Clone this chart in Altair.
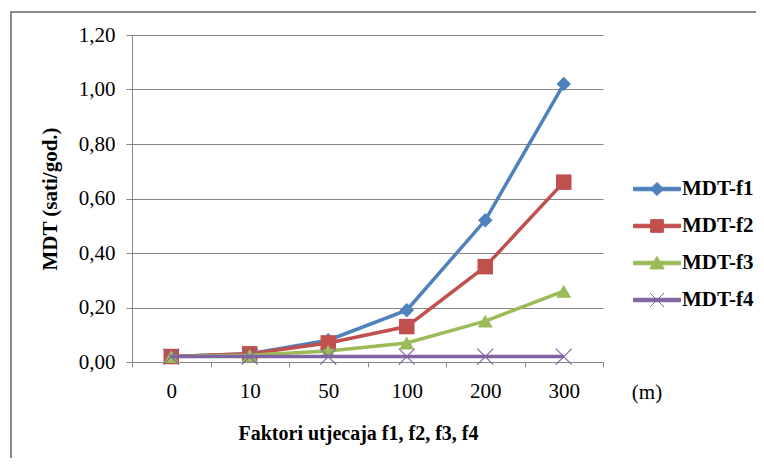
import altair as alt
import pandas as pd

# ---- data ----
categories = ["0", "10", "50", "100", "200", "300"]
mdt_f1 = [0.02, 0.03, 0.08, 0.19, 0.52, 1.02]
mdt_f2 = [0.02, 0.03, 0.07, 0.13, 0.35, 0.66]
mdt_f3 = [0.02, 0.025, 0.04, 0.07, 0.15, 0.26]
mdt_f4 = [0.02, 0.02, 0.02, 0.02, 0.02, 0.02]
series_names = ["MDT-f1", "MDT-f2", "MDT-f3", "MDT-f4"]
series_colors = ["#4F81BD", "#C0504D", "#9BBB59", "#8064A2"]
y_tick_values = [0.0, 0.2, 0.4, 0.6, 0.8, 1.0, 1.2]
x_title = "Faktori utjecaja f1, f2, f3, f4"
y_title = "MDT (sati/god.)"
unit_label = "(m)"

FONT = "'Liberation Serif', 'Times New Roman', Times, serif"
GRID = "#868686"

rows = []
for name, vals in zip(series_names, [mdt_f1, mdt_f2, mdt_f3, mdt_f4]):
    for c, v in zip(categories, vals):
        rows.append({"cat": c, "val": v, "series": name})
df = pd.DataFrame(rows)

x_enc = alt.X(
    "cat:N",
    sort=categories,
    scale=alt.Scale(type="band", paddingInner=0, paddingOuter=0),
    axis=alt.Axis(
        title=x_title,
        labelAngle=0,
        tickBand="extent",
        grid=False,
        domainColor=GRID,
        tickColor=GRID,
        tickSize=5,
        labelFont=FONT,
        labelFontSize=21,
        labelColor="black",
        labelPadding=13,
        titleFont=FONT,
        titleFontSize=20,
        titleFontWeight="bold",
        titleColor="black",
        titleX=226,
        titleY=77,
        titleAlign="center",
        titleBaseline="alphabetic",
    ),
)
y_enc = alt.Y(
    "val:Q",
    scale=alt.Scale(domain=[0, 1.2], nice=False),
    axis=alt.Axis(
        title=y_title,
        values=y_tick_values,
        labelExpr="replace(format(datum.value, '.2f'), '.', ',')",
        grid=True,
        gridColor=GRID,
        gridWidth=1,
        domainColor=GRID,
        tickColor=GRID,
        tickSize=6,
        labelFont=FONT,
        labelFontSize=21,
        labelColor="black",
        labelPadding=11,
        titleFont=FONT,
        titleFontSize=21,
        titleFontWeight="bold",
        titleColor="black",
        titleX=-76,
        titleY=163.5,
        titleAlign="center",
        titleBaseline="alphabetic",
    ),
)

point_shapes = ["diamond", "square", "triangle-up", "M-1,-1L1,1M-1,1L1,-1"]
point_sizes = [210, 240, 225, 256]
point_filled = [True, True, True, False]

layers = []
for name, col, shp, sz, fl in zip(series_names, series_colors, point_shapes, point_sizes, point_filled):
    base = alt.Chart(df).transform_filter(alt.datum.series == name)
    layers.append(base.mark_line(color=col, strokeWidth=3.5).encode(x=x_enc, y=y_enc))
    if fl:
        layers.append(base.mark_point(shape=shp, filled=True, size=sz, color=col, opacity=1).encode(x=x_enc, y=y_enc))
    else:
        layers.append(base.mark_point(shape=shp, filled=False, size=sz, color=col, strokeWidth=1.2, opacity=1).encode(x=x_enc, y=y_enc))

# legend symbols: line + marker drawn as one path each
line_part = "M-1,-0.075H1V0.075H-1Z"
legend_paths = [
    line_part + "M0,-0.28L0.28,0L0,0.28L-0.28,0Z",
    line_part + "M-0.27,-0.27H0.27V0.27H-0.27Z",
    line_part + "M0,-0.28L0.31,0.25H-0.31Z",
    line_part + "M-0.3,-0.3L0.3,0.3M-0.3,0.3L0.3,-0.3",
]
legend_def = alt.Legend(
    title=None,
    orient="none",
    legendX=501,
    legendY=130,
    padding=0,
    symbolSize=2209,
    symbolStrokeWidth=1,
    symbolOpacity=1,
    labelFont=FONT,
    labelFontSize=21,
    labelFontWeight="bold",
    labelColor="black",
    labelOffset=1,
    rowPadding=3,
)
legend_layer = alt.Chart(df).transform_filter("false").mark_point(filled=True, strokeWidth=1).encode(
    x=x_enc,
    y=y_enc,
    fill=alt.Fill("series:N", scale=alt.Scale(domain=series_names, range=series_colors), legend=legend_def),
    stroke=alt.Stroke("series:N", scale=alt.Scale(domain=series_names, range=series_colors), legend=legend_def),
    shape=alt.Shape("series:N", scale=alt.Scale(domain=series_names, range=legend_paths), legend=legend_def),
)
layers.append(legend_layer)

unit_df = pd.DataFrame({"t": [unit_label]})
unit_text = alt.Chart(unit_df).mark_text(
    font=FONT, fontSize=21, color="black", align="center", baseline="middle"
).encode(text="t:N", x=alt.value(515), y=alt.value(358))
layers.append(unit_text)

frame_df = pd.DataFrame({"k": [0]})
frame_left = alt.Chart(frame_df).mark_rule(color="#8a8a8a", strokeWidth=2).encode(
    x=alt.value(-121), y=alt.value(-23), y2=alt.value(600)
)
frame_top = alt.Chart(frame_df).mark_rule(color="#8a8a8a", strokeWidth=2).encode(
    x=alt.value(-122), x2=alt.value(700), y=alt.value(-23)
)
layers += [frame_left, frame_top]

chart = alt.layer(*layers).properties(
    width=471,
    height=327,
    autosize=alt.AutoSizeParams(type="none"),
    padding={"left": 124, "top": 27, "right": 153, "bottom": 96},
    background="white",
).configure_view(stroke="transparent")

chart.save("out.html", embed_options={"renderer": "svg", "actions": False})
